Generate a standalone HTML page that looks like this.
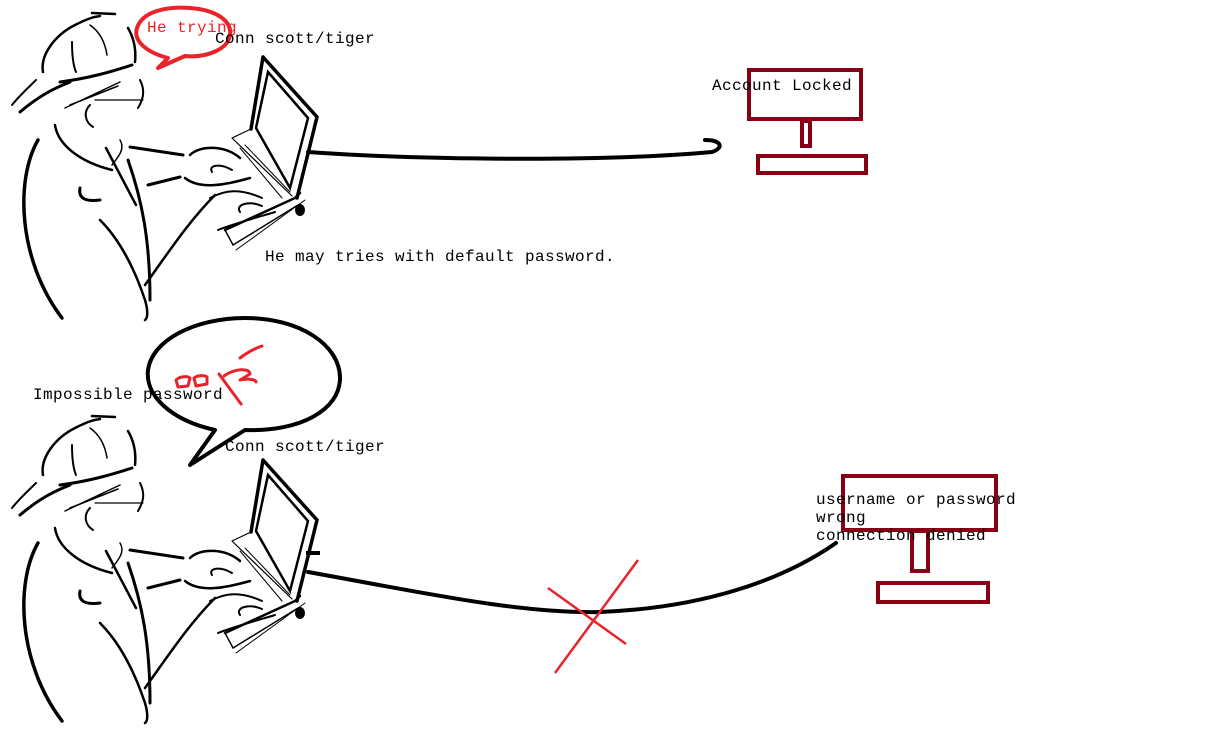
<!DOCTYPE html>
<html><head><meta charset="utf-8"><style>
html,body{margin:0;padding:0;background:#fff;width:1207px;height:739px;overflow:hidden}
svg{display:block}
text{font-family:"Liberation Mono",monospace;font-size:16px;letter-spacing:0.4px;fill:#000}
</style></head><body>
<svg width="1207" height="739" viewBox="0 0 1207 739" xmlns="http://www.w3.org/2000/svg">
<defs>
<g id="hk" fill="none" stroke="#000" stroke-linecap="round">
  <path d="M43,72 C40,55 55,35 75,25 C85,20 92,17 100,16" stroke-width="2.5"/>
  <path d="M92,13 L115,14" stroke-width="2.5"/>
  <path d="M128,28 C135,40 136,52 135,62" stroke-width="2.5"/>
  <path d="M72,42 C72,55 73,65 76,72" stroke-width="2"/>
  <path d="M90,25 C100,32 105,42 107,55" stroke-width="1.5"/>
  <path d="M60,82 C90,78 110,72 132,65" stroke-width="3"/>
  <path d="M20,112 C40,95 55,88 70,82" stroke-width="3"/>
  <path d="M12,105 C20,95 28,88 36,80" stroke-width="2"/>
  <path d="M65,108 L120,82 M70,105 L118,86" stroke-width="1.5"/>
  <path d="M95,100 L143,100" stroke-width="1.2"/>
  <path d="M140,80 C145,90 144,98 138,108" stroke-width="2"/>
  <path d="M90,105 C83,112 85,122 93,127" stroke-width="2"/>
  <path d="M55,125 C58,145 80,162 112,170" stroke-width="2.5"/>
  <path d="M120,140 C125,148 120,155 112,165" stroke-width="1.5"/>
  <path d="M38,140 C15,180 18,260 62,318" stroke-width="3.5"/>
  <path d="M106,148 L136,205" stroke-width="2.5"/>
  <path d="M128,160 C142,200 150,240 150,300" stroke-width="3"/>
  <path d="M80,188 C78,198 85,202 100,200" stroke-width="3"/>
  <path d="M100,220 C120,240 135,270 145,300 C148,310 148,318 145,320" stroke-width="2.5"/>
  <path d="M145,285 C170,250 190,220 215,195" stroke-width="2.5"/>
  <path d="M130,147 L183,155" stroke-width="3"/>
  <path d="M148,185 L180,177" stroke-width="3"/>
  <path d="M190,155 C200,145 225,145 240,158" stroke-width="2.5"/>
  <path d="M185,178 C200,190 225,185 250,178" stroke-width="2.5"/>
  <path d="M212,172 C208,165 220,163 232,170" stroke-width="2"/>
  <path d="M240,212 C235,205 248,200 262,206" stroke-width="2"/>
  <path d="M218,230 C230,225 255,218 275,212" stroke-width="2"/>
  <path d="M210,198 C225,190 240,188 262,198" stroke-width="2"/>
  <path d="M263,57 L317,117 L297,198 M263,57 L251,129" stroke-width="3.5"/>
  <path d="M268,72 L308,118 L290,188 L256,128 Z" stroke-width="2.5"/>
  <path d="M251,129 L232,138 M232,138 L292,196" stroke-width="1.2"/>
  <path d="M240,148 L282,198 M245,145 L290,192" stroke-width="1"/>
  <path d="M225,230 L295,198 L300,193" stroke-width="2.5"/>
  <path d="M225,230 L233,245 L298,205" stroke-width="1.5"/>
  <path d="M236,250 L305,200" stroke-width="1"/>
  <ellipse cx="300" cy="210" rx="5" ry="6" fill="#000" stroke="none"/>
</g>
</defs>

<use href="#hk"/>
<use href="#hk" transform="translate(0,403)"/>

<path d="M168,58 C145,52 133,40 137,28 C142,12 165,6 190,8 C218,10 232,22 230,35 C228,50 205,58 185,56 L158,68 Z" fill="#fff" stroke="#e8232b" stroke-width="4" stroke-linejoin="round"/>
<text x="147" y="32" style="fill:#e8232b">He trying</text>
<text x="215" y="43">Conn scott/tiger</text>
<text x="265" y="261">He may tries with default password.</text>

<path d="M308,152 C420,160 600,162 712,152 C724,148 722,140 705,140" fill="none" stroke="#000" stroke-width="4" stroke-linecap="round"/>

<g fill="none" stroke="#880015" stroke-width="4">
  <rect x="749" y="70" width="112" height="49"/>
  <rect x="802" y="121" width="8" height="25"/>
  <rect x="758" y="156" width="108" height="17"/>
</g>
<text x="712" y="90">Account Locked</text>

<path d="M215,430 C170,420 145,395 148,370 C152,340 195,318 245,318 C300,318 340,345 340,378 C340,410 300,432 245,430 L190,465 Z" fill="#fff" stroke="#000" stroke-width="4" stroke-linejoin="round"/>
<g fill="none" stroke="#e8232b" stroke-width="3" stroke-linecap="round" stroke-linejoin="round">
  <path d="M176,380 C180,376 188,376 190,378 L188,386 L178,387 Z"/>
  <path d="M194,378 C198,375 205,375 207,377 L207,384 L196,386 Z"/>
  <path d="M219,374 L241,404"/>
  <path d="M224,376 C235,368 250,368 250,374 L240,380 C250,378 256,380 256,382"/>
  <path d="M240,358 C248,352 256,348 262,346"/>
</g>
<text x="33" y="399">Impossible password</text>
<text x="225" y="451">Conn scott/tiger</text>

<path d="M306,553 L320,553" stroke="#000" stroke-width="4"/>
<path d="M308,572 C420,592 520,614 600,612 C700,608 780,582 836,543" fill="none" stroke="#000" stroke-width="4" stroke-linecap="round"/>
<path d="M548,588 L626,644 M638,560 L555,673" stroke="#e8232b" stroke-width="2.5" fill="none"/>

<g fill="none" stroke="#880015" stroke-width="4">
  <rect x="843" y="476" width="153" height="54"/>
  <rect x="912" y="531" width="16" height="40"/>
  <rect x="878" y="583" width="110" height="19"/>
</g>
<text x="816" y="504">username or password</text>
<text x="816" y="522">wrong</text>
<text x="816" y="540">connection denied</text>
</svg>
</body></html>
